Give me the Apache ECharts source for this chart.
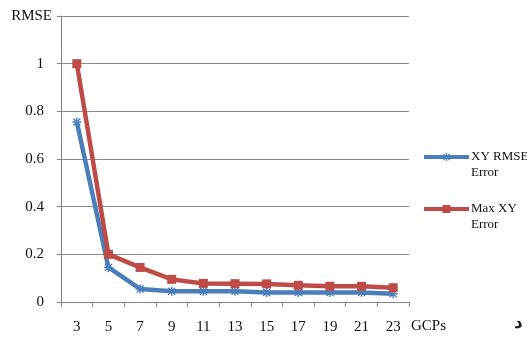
<!DOCTYPE html>
<html>
<head>
<meta charset="utf-8">
<script src="https://cdn.jsdelivr.net/npm/echarts@6/dist/echarts.min.js"></script>
<style>html,body{margin:0;padding:0;background:#fff;}#c{width:527px;height:341px;}</style>
</head>
<body>
<div id="c"></div>
<script>
var categories = ['3','5','7','9','11','13','15','17','19','21','23'];
var xyRmse = [0.755, 0.145, 0.055, 0.045, 0.045, 0.045, 0.04, 0.04, 0.04, 0.04, 0.035];
var maxXY = [1.0, 0.2, 0.145, 0.095, 0.078, 0.077, 0.076, 0.07, 0.066, 0.066, 0.06];
var seriesNames = ['XY RMSE Error', 'Max XY Error'];
var legendLabels = {'XY RMSE Error': ' \nXY RMSE\nError', 'Max XY Error': ' \nMax XY\nError'};

var font = 'Liberation Serif';
var starPath = 'path://M4.2,0h1.6v10h-1.6z M0.6,1.6l1.1,-1.1l7.7,7.9l-1.1,1.1z M9.4,1.6l-1.1,-1.1l-7.7,7.9l1.1,1.1z M0,4.2h10v1.6h-10z';

var chart = echarts.init(document.getElementById('c'));
chart.setOption({
  animation: false,
  backgroundColor: '#fff',
  title: {
    text: 'د', left: 509, top: 310,
    textStyle: {fontFamily: 'DejaVu Sans', fontSize: 17, fontWeight: 'bold', color: '#222'}
  },
  legend: {
    orient: 'vertical', left: 422, top: 133, padding: 0, itemGap: 4,
    itemWidth: 45, itemHeight: 10,
    data: seriesNames,
    lineStyle: {width: 4},
    formatter: function (n) { return legendLabels[n]; },
    textStyle: {fontFamily: font, fontSize: 13, color: '#111', lineHeight: 16, padding: [0,0,0,-3]}
  },
  grid: {left: 61, right: 118, top: 16, bottom: 39, containLabel: false},
  xAxis: {
    type: 'category', data: categories, boundaryGap: true,
    name: 'GCPs', nameLocation: 'end', nameGap: 2,
    nameTextStyle: {fontFamily: font, fontSize: 15, color: '#111', align: 'left', verticalAlign: 'top', padding: [17,0,0,0]},
    axisLine: {lineStyle: {color: '#868686', width: 1}},
    axisTick: {show: true, length: 5, alignWithLabel: false, lineStyle: {color: '#868686'}},
    axisLabel: {fontFamily: font, fontSize: 15, color: '#111', margin: 18}
  },
  yAxis: {
    type: 'value', min: 0, max: 1.2, interval: 0.2,
    name: 'RMSE', nameLocation: 'end', nameGap: 0,
    nameTextStyle: {fontFamily: font, fontSize: 15, color: '#111', align: 'right', verticalAlign: 'middle', padding: [0,9,0,0]},
    axisLine: {show: true, lineStyle: {color: '#868686', width: 1}},
    axisTick: {show: true, length: 4, lineStyle: {color: '#868686'}},
    splitLine: {lineStyle: {color: '#8c8c8c', width: 1}},
    axisLabel: {
      fontFamily: font, fontSize: 15, color: '#111', margin: 17,
      formatter: function (v) { return v >= 1.19 ? '' : String(Math.round(v * 10) / 10); }
    }
  },
  series: [
    {
      name: seriesNames[0], type: 'line', data: xyRmse,
      symbol: starPath, symbolSize: 9, showAllSymbol: true,
      lineStyle: {color: '#4a7ebb', width: 4.5},
      itemStyle: {color: '#4a7ebb'},
      z: 3
    },
    {
      name: seriesNames[1], type: 'line', data: maxXY,
      symbol: 'rect', symbolSize: 9, showAllSymbol: true,
      lineStyle: {color: '#be4b48', width: 4.5},
      itemStyle: {color: '#be4b48'},
      z: 4
    }
  ]
});
</script>
</body>
</html>
